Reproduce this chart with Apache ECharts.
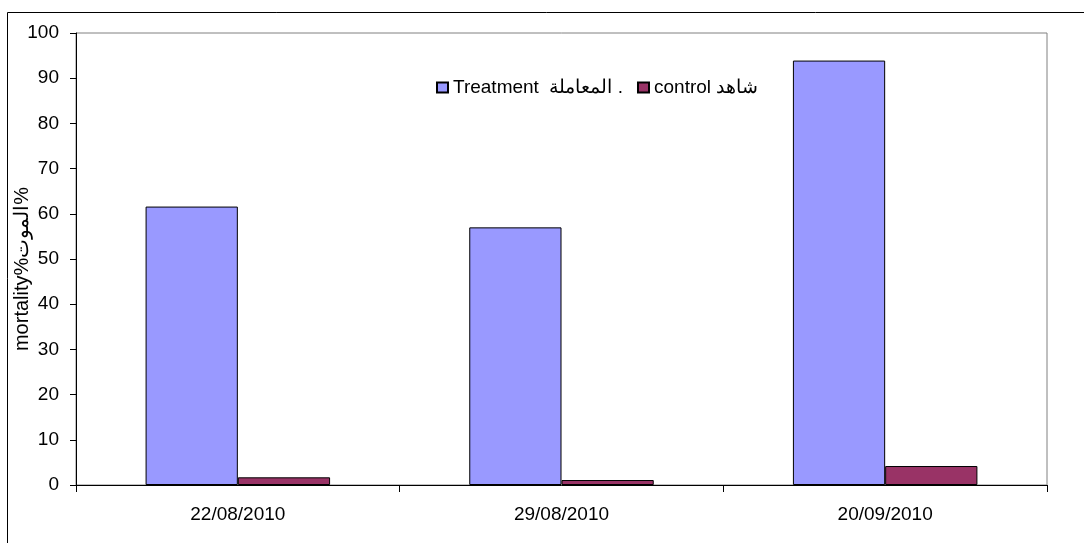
<!DOCTYPE html>
<html>
<head>
<meta charset="utf-8">
<script src="https://cdn.jsdelivr.net/npm/echarts@6/dist/echarts.min.js"></script>
<style>
  html, body { margin: 0; padding: 0; background: #fff; }
  #chart { width: 1084px; height: 543px; }
</style>
</head>
<body>
<div id="chart"></div>
<script>
// Sampling dates
const categories = ['22/08/2010', '29/08/2010', '20/09/2010'];
// Mortality (%) per date
const treatmentValues = [61.6, 57.0, 93.9];
const controlValues = [1.7, 1.1, 4.2];
const seriesNames = ['Treatment  المعاملة .', 'control شاهد'];
const yAxisTitle = 'mortality%الموت%';

const FONT = 'Liberation Sans, Arial, sans-serif';
const FS = 19;

const chart = echarts.init(document.getElementById('chart'), null, { renderer: 'canvas' });

chart.setOption({
  animation: false,
  backgroundColor: '#ffffff',
  textStyle: { fontFamily: FONT },
  graphic: [
    {
      // outer chart frame
      type: 'rect',
      shape: { x: 7.5, y: 12.5, width: 1100, height: 560 },
      style: { fill: null, stroke: '#000', lineWidth: 1 },
      silent: true,
      z: -10
    }
  ],
  grid: {
    left: 76, top: 33, right: 37, bottom: 58,
    containLabel: false,
    outerBoundsMode: 'none',
    show: true,
    borderColor: '#808080',
    borderWidth: 1,
    backgroundColor: 'transparent'
  },
  legend: {
    top: 78,
    left: 436,
    padding: 0,
    itemWidth: 11,
    itemHeight: 10,
    itemGap: 14,
    icon: 'rect',
    textStyle: { fontFamily: FONT, fontSize: FS, color: '#000' },
    data: seriesNames
  },
  xAxis: {
    type: 'category',
    data: categories,
    axisLine: { lineStyle: { color: '#000', width: 1 } },
    axisTick: { show: true, length: 7, lineStyle: { color: '#000' } },
    axisLabel: { color: '#000', fontSize: FS, fontFamily: FONT, margin: 20 },
    splitLine: { show: false }
  },
  yAxis: {
    type: 'value',
    min: 0,
    max: 100,
    interval: 10,
    name: yAxisTitle,
    nameLocation: 'middle',
    nameGap: 44,
    nameMoveOverlap: false,
    nameRotate: 90,
    nameTextStyle: { color: '#000', fontSize: 20, fontFamily: FONT, padding: [0, 20, 0, 0] },
    axisLine: { show: true, lineStyle: { color: '#000', width: 1 } },
    axisTick: { show: true, length: 6, lineStyle: { color: '#000' } },
    axisLabel: { color: '#000', fontSize: FS, fontFamily: FONT, margin: 17 },
    splitLine: { show: false }
  },
  series: [
    {
      name: seriesNames[0],
      type: 'bar',
      data: treatmentValues,
      barGap: '0%',
      barCategoryGap: '43%',
      itemStyle: { color: '#9999FF', borderColor: '#000', borderWidth: 1 }
    },
    {
      name: seriesNames[1],
      type: 'bar',
      data: controlValues,
      itemStyle: { color: '#993366', borderColor: '#000', borderWidth: 1 }
    }
  ]
});
</script>
</body>
</html>
